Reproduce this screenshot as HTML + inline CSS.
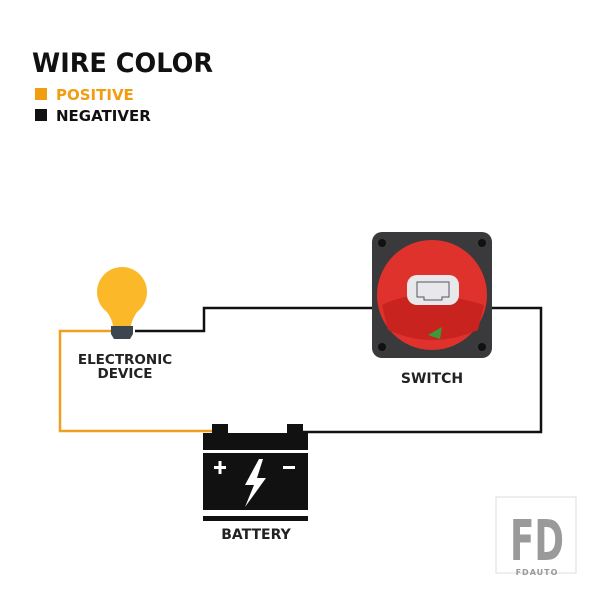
<!DOCTYPE html>
<html><head><style>
body{margin:0;background:#fff;}
svg{display:block;}
text{font-family:"DejaVu Sans","Liberation Sans",sans-serif;font-weight:bold;}
</style></head><body>
<svg width="600" height="600" viewBox="0 0 600 600" xmlns="http://www.w3.org/2000/svg">
<rect width="600" height="600" fill="#fff"/>
<text x="32" y="72" font-size="27" fill="#111" textLength="181" lengthAdjust="spacingAndGlyphs">WIRE COLOR</text>
<rect x="35" y="88" width="12" height="12" fill="#f29c12"/>
<text x="56" y="100" font-size="15" fill="#f29c12">POSITIVE</text>
<rect x="35" y="109" width="12" height="12" fill="#111"/>
<text x="56" y="121" font-size="15" fill="#111">NEGATIVER</text>

<!-- wires -->
<polyline points="112,331 60,331 60,431 214,431" fill="none" stroke="#f0a020" stroke-width="2.5"/>
<polyline points="135,331 204,331 204,308 380,308" fill="none" stroke="#111" stroke-width="2.5"/>
<polyline points="485,308 541,308 541,432 296,432" fill="none" stroke="#111" stroke-width="2.5"/>

<!-- bulb -->
<circle cx="122" cy="292" r="25" fill="#fbb829"/>
<path d="M104,308 Q112,318 113,326 L131,326 Q132,318 140,308 Z" fill="#fbb829"/>
<path d="M111,326 h22 v8 l-3,5 h-16 l-3,-5 Z" fill="#3d4650"/>
<text x="125" y="364" font-size="13.5" fill="#222" text-anchor="middle">ELECTRONIC</text>
<text x="125" y="378" font-size="13.5" fill="#222" text-anchor="middle">DEVICE</text>

<!-- switch -->
<rect x="372" y="232" width="120" height="126" rx="10" fill="#3a3a3c"/>
<circle cx="382" cy="243" r="4" fill="#111"/><circle cx="482" cy="243" r="4" fill="#111"/>
<circle cx="382" cy="347" r="4" fill="#111"/><circle cx="482" cy="347" r="4" fill="#111"/>
<circle cx="432" cy="295" r="55" fill="#e0322c"/>
<path d="M382,305 Q420,285 484,305 L478,330 Q432,350 388,330 Z" fill="#c8231f"/>
<path d="M428,335 l14,-8 l-2,12 z" fill="#3a9a3a"/>
<rect x="407" y="275" width="52" height="30" rx="10" fill="#e8e8ea"/>
<path d="M417,282 h32 v15 h-7 v3 h-18 v-3 h-7 z" fill="none" stroke="#556" stroke-width="1"/>
<text x="432" y="383" font-size="14" fill="#222" text-anchor="middle">SWITCH</text>

<!-- battery -->
<rect x="212" y="424" width="16" height="9" fill="#111"/>
<rect x="287" y="424" width="16" height="9" fill="#111"/>
<rect x="203" y="433" width="105" height="17" fill="#111"/>
<rect x="203" y="453" width="105" height="57" fill="#111"/>
<rect x="214" y="466" width="12" height="3" fill="#fff"/><rect x="218.5" y="461" width="3" height="13" fill="#fff"/>
<rect x="283" y="466" width="12" height="3" fill="#fff"/>
<path d="M259,459 L245,485 L254,485 L245,507 L266,478 L257,478 L263,459 Z" fill="#fff"/>
<rect x="203" y="516" width="105" height="5" fill="#111"/>
<text x="256" y="539" font-size="14" fill="#222" text-anchor="middle">BATTERY</text>

<!-- logo -->
<rect x="496" y="497" width="80" height="76" fill="none" stroke="#ddd" stroke-width="1"/>
<text x="537" y="560" font-size="56" fill="#9a9a9a" text-anchor="middle" textLength="54" lengthAdjust="spacingAndGlyphs">FD</text>
<text x="537" y="575" font-size="8" fill="#999" text-anchor="middle" font-weight="normal" letter-spacing="1">FDAUTO</text>
</svg>
</body></html>
